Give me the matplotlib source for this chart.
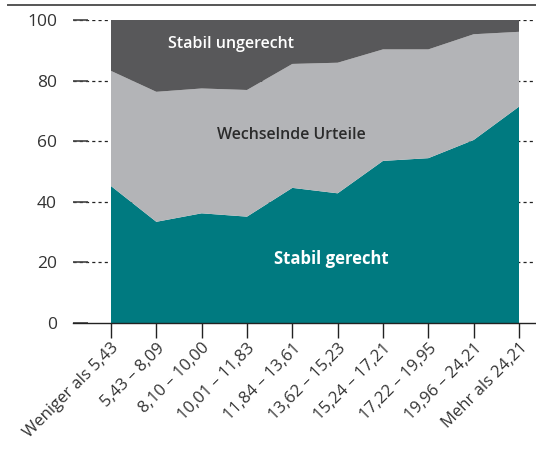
import matplotlib
matplotlib.use("Agg")
import matplotlib.pyplot as plt
from matplotlib.lines import Line2D
import numpy as np

plt.rcParams["font.family"] = ["Open Sans", "DejaVu Sans"]

# income groups (x categories)
categories = [
    "Weniger als 5,43", "5,43 – 8,09", "8,10 – 10,00", "10,01 – 11,83",
    "11,84 – 13,61", "13,62 – 15,23", "15,24 – 17,21", "17,22 – 19,95",
    "19,96 – 24,21", "Mehr als 24,21",
]
# shares in percent
stabil_gerecht = [45.2, 33.4, 36.2, 35.1, 44.6, 42.8, 53.5, 54.4, 60.4, 71.4]
wechselnd = [38.0, 42.9, 41.2, 41.8, 40.9, 43.1, 36.8, 35.9, 34.9, 24.7]
stabil_ungerecht = [16.8, 23.7, 22.6, 23.1, 14.5, 14.1, 9.7, 9.7, 4.7, 3.9]

c_teal = "#007a80"
c_light = "#b3b4b7"
c_dark = "#58585a"

fig = plt.figure(figsize=(5.36, 4.5), dpi=100)
ax = fig.add_axes([73 / 536, 127 / 450, 463 / 536, 303 / 450])

x = np.arange(len(categories))
ax.stackplot(x, stabil_gerecht, wechselnd, stabil_ungerecht,
             colors=[c_teal, c_light, c_dark], zorder=2)

ax.set_xlim(-38 / 45.33, 9 + 17 / 45.33)
ax.set_ylim(0, 100)

yt = [0, 20, 40, 60, 80, 100]
ax.set_yticks(yt)
for v in yt[1:]:
    ax.axhline(v, color="#222222", lw=0.9, ls=(0, (2.5, 2.5)), zorder=1)

for s in ["top", "right", "left"]:
    ax.spines[s].set_visible(False)
ax.spines["bottom"].set_color("#222222")
ax.spines["bottom"].set_linewidth(1.0)
ax.spines["bottom"].set_zorder(3)

ax.tick_params(axis="y", direction="in", length=10.8, width=1.2, color="#444444",
               pad=11.5, labelsize=12.5, labelcolor="#333333")
ax.tick_params(axis="x", direction="out", length=10.8, width=1.0, color="#222222",
               pad=1.5, labelsize=12, labelcolor="#333333")
ax.set_xticks(x)
ax.set_xticklabels(categories, rotation=45, ha="right", rotation_mode="anchor")

ax.text(2.65, 92, "Stabil ungerecht", color="white", fontsize=11.5,
        fontweight="semibold", ha="center", va="center", zorder=4)
ax.text(3.97, 62, "Wechselnde Urteile", color="#2b2b2b", fontsize=11.5,
        fontweight="semibold", ha="center", va="center", zorder=4)
ax.text(4.87, 21, "Stabil gerecht", color="white", fontsize=12,
        fontweight="bold", ha="center", va="center", zorder=4)

fig.add_artist(Line2D([8 / 536, 1.0], [445 / 450, 445 / 450],
                      color="#555555", lw=1.4, transform=fig.transFigure))

fig.savefig("out.png", dpi=100)
